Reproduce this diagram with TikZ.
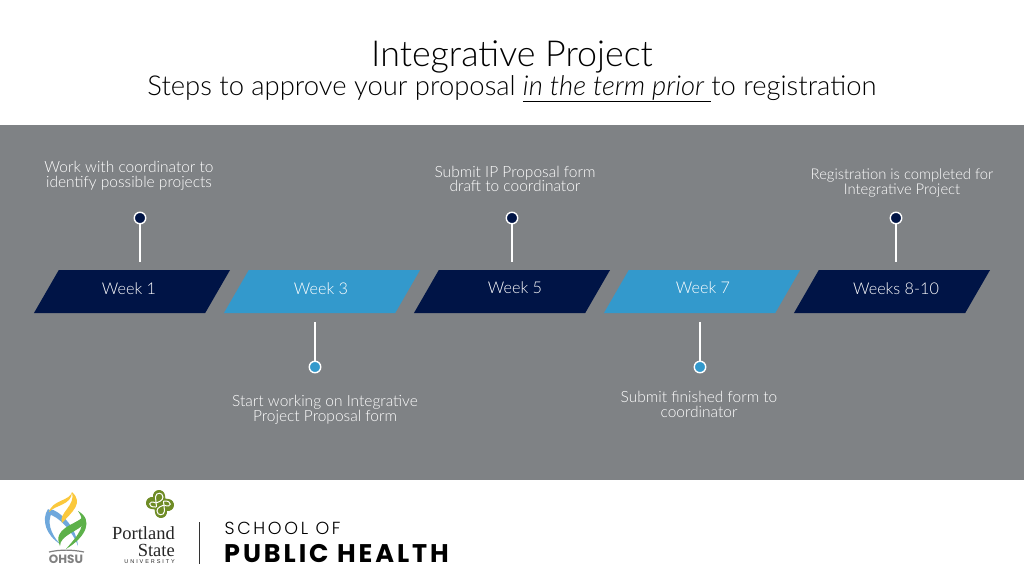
\documentclass[tikz,border=0pt]{standalone}
\usepackage{fontspec}
\setmainfont{Lato Light}[ItalicFont=Lato Light Italic]
\newfontfamily\logofont{Poppins}
\newfontfamily\schoolfont{Poppins Light}[LetterSpace=15]
\newfontfamily\healthfont{Poppins}[LetterSpace=11.5]
\newfontfamily\univfont{Liberation Sans}[LetterSpace=35]
\newfontfamily\psufont{Liberation Serif}
\usetikzlibrary{shapes.geometric}
\definecolor{slate}{HTML}{7F8285}
\definecolor{navy}{HTML}{001446}
\definecolor{sky}{HTML}{3399CC}
\definecolor{olive}{HTML}{6F8C26}
\definecolor{ohsugold}{HTML}{FBC83C}
\definecolor{ohsublue}{HTML}{6FA8DC}
\definecolor{ohsugreen}{HTML}{5DB14A}
\tikzset{
  weekbox/.style={trapezium, trapezium left angle=60, trapezium right angle=120,
    text width=146.4pt, text height=43pt, text depth=0pt, inner sep=0pt},
  weektext/.style={text=white, font=\fontsize{16.2}{16.2}\selectfont},
  stepdot/.style={circle, draw=white, line width=1.4pt, minimum size=11.5pt, inner sep=0pt},
  stem/.style={white, line width=2.6pt},
  steptext/.style={text=white, align=center, font=\fontsize{15.5}{14.6}\selectfont},
}
\begin{document}
\begin{tikzpicture}[x=1pt, y=-1pt]
  \useasboundingbox (0,0) rectangle (1024,576);
  \fill[white] (0,0) rectangle (1024,576);
  \fill[slate] (0,125) rectangle (1024,480);

  \node (title) at (512,56.5) {\fontsize{35.8}{36}\selectfont Integrative Project};
  \node (subtitle) at (512,88.5) {\fontsize{27.4}{28}\selectfont Steps to approve your proposal \underline{\textit{in the term prior\ }}to registration};

  \node[weekbox, fill=navy] (w1) at (132,291.5) {};
  \node[weekbox, fill=sky] (w3) at (322,291.5) {};
  \node[weekbox, fill=navy] (w5) at (512,291.5) {};
  \node[weekbox, fill=sky] (w7) at (702,291.5) {};
  \node[weekbox, fill=navy] (w8) at (892,291.5) {};

  \node[weektext] (w1text) at (129,288.5) {Week 1};
  \node[weektext] (w3text) at (321,288.5) {Week 3};
  \node[weektext] (w5text) at (515,288) {Week 5};
  \node[weektext] (w7text) at (703,288) {Week 7};
  \node[weektext] (w8text) at (896,288.5) {Weeks 8-10};

  \node[stepdot, fill=navy] (d1) at (140,218) {};
  \node[stepdot, fill=sky] (d3) at (315,367) {};
  \node[stepdot, fill=navy] (d5) at (512,218) {};
  \node[stepdot, fill=sky] (d7) at (700,367) {};
  \node[stepdot, fill=navy] (d8) at (896,218) {};

  \draw[stem, shorten >=7.5pt] (d1) -- (d1 |- w1.north);
  \draw[stem, shorten >=9pt] (d3) -- (d3 |- w3.south);
  \draw[stem, shorten >=7.5pt] (d5) -- (d5 |- w5.north);
  \draw[stem, shorten >=9pt] (d7) -- (d7 |- w7.south);
  \draw[stem, shorten >=7.5pt] (d8) -- (d8 |- w8.north);

  \node[steptext] (t1) at (129,175.5) {Work with coordinator to\\identify possible projects};
  \node[steptext] (t3) at (325,410) {Start working on Integrative\\Project Proposal form};
  \node[steptext] (t5) at (515,179) {Submit IP Proposal form\\draft to coordinator};
  \node[steptext] (t7) at (699,404.5) {Submit finished form to\\coordinator};
  \node[steptext, font=\fontsize{14.8}{14.6}\selectfont] (t8) at (902,183) {Registration is completed for\\Integrative Project};

  \fill[ohsublue] (48,509) .. controls (41,520) and (46,535) .. (60,544) .. controls (50,533) and (47,522) .. (52,512) -- cycle;
  \fill[ohsublue] (50,509) .. controls (58,510) and (76,525) .. (78,546) .. controls (72,530) and (58,516) .. (48,514) -- cycle;
  \fill[ohsugold] (72,492) .. controls (70,501) and (52,500) .. (49,512) .. controls (55,505) and (72,505) .. (72,492) -- cycle;
  \fill[ohsugold] (72,492) .. controls (84,503) and (72,512) .. (62,523) .. controls (58,513) and (76,506) .. (72,492) -- cycle;
  \fill[ohsugreen] (78,511) .. controls (94,520) and (86,537) .. (66,549) .. controls (78,535) and (88,525) .. (78,511) -- cycle;
  \fill[ohsugreen] (83,517) .. controls (75,525) and (52,528) .. (60,546) .. controls (60,535) and (78,532) .. (86,522) -- cycle;
  \draw[gray, line width=1.2pt] (49,552) .. controls (60,549.5) and (72,549.5) .. (84,552);
  \node[text=gray, inner sep=0pt, font=\logofont\bfseries\fontsize{12}{12}\selectfont] (ohsu) at (66,559) {OHSU};

  \draw[olive, line width=12pt, line cap=round] (159,496) -- (161,512) (152,503) -- (168,505);
  \draw[white, line width=1pt] (156.5,507) -- (155.5,497) .. controls (155.5,492) and (163,492) .. (163,497) .. controls (163,501) and (158,502) .. (156,503);
  \draw[white, line width=1pt] (163.5,501) -- (164.5,511) .. controls (164.5,516) and (157,516) .. (157,511) .. controls (157,507) and (162,506) .. (164,505);
  \draw[white, line width=1pt] (156,503) .. controls (148,499) and (147,508) .. (156,507);
  \draw[white, line width=1pt] (164,505) .. controls (172,509) and (173,500) .. (163.5,501);
  \node[inner sep=0pt, anchor=east, text=black!85, font=\psufont\fontsize{18.5}{18.5}\selectfont] (portland) at (175,533) {Portland};
  \node[inner sep=0pt, anchor=east, text=black!85, font=\psufont\fontsize{18.5}{18.5}\selectfont] (state) at (175,550) {State};
  \node[inner sep=0pt, anchor=east, text=black!85, font=\univfont\fontsize{5.5}{5.5}\selectfont] (univ) at (175,562) {UNIVERSITY};

  \draw[black!80, line width=0.7pt] (199.5,522) -- (199.5,564);
  \node[inner sep=0pt, anchor=west, font=\schoolfont\fontsize{17.5}{17.5}\selectfont] (school) at (224.5,528) {SCHOOL OF};
  \node[inner sep=0pt, anchor=west, font=\healthfont\bfseries\fontsize{25.5}{25.5}\selectfont] (health) at (224,554) {PUBLIC HEALTH};
\end{tikzpicture}
\end{document}
